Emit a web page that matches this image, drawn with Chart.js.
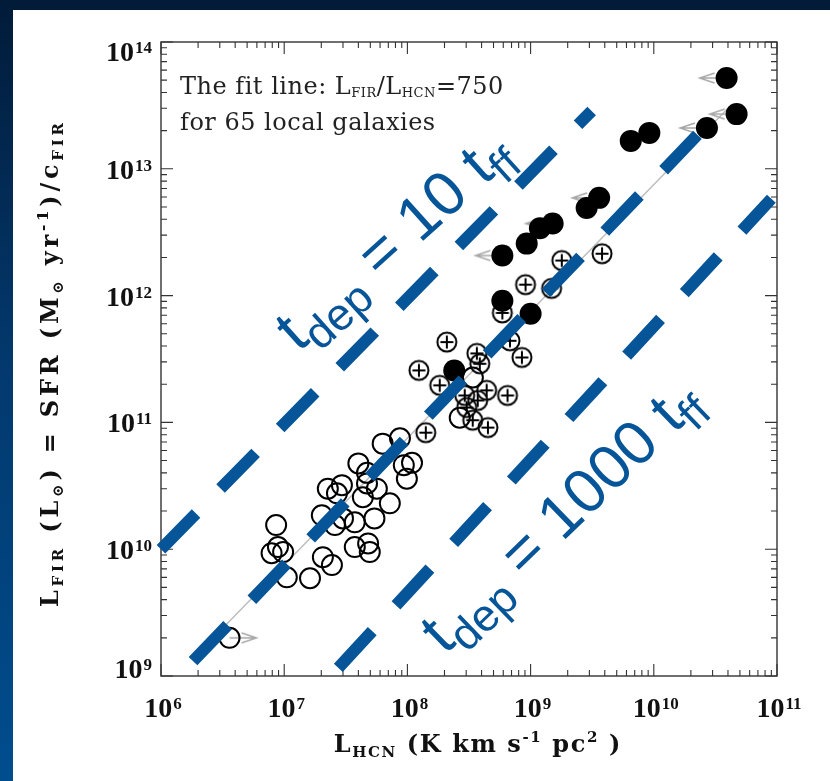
<!DOCTYPE html>
<html lang="en">
<head>
<meta charset="UTF-8">
<title>L_FIR vs L_HCN</title>
<script src="https://cdn.jsdelivr.net/npm/chart.js"></script>
<style>
  html, body { margin: 0; padding: 0; background: #fff; }
  #wrap { position: relative; width: 830px; height: 781px; overflow: hidden; background: #fff; }
  #topbar { position: absolute; left: 0; top: 0; width: 830px; height: 10px; background: #011b39; }
  #leftbar { position: absolute; left: 0; top: 0; width: 13px; height: 781px;
             background: linear-gradient(#011b39, #03386c 45%, #004d8e); }
  canvas { position: absolute; left: 0; top: 0; }
</style>
</head>
<body>
<div id="wrap">
  <div id="topbar"></div>
  <div id="leftbar"></div>
  <canvas id="chart" width="830" height="781"></canvas>
</div>
<script>
// axis decades (tick labels are 10^exp)
const xTickExps = [6, 7, 8, 9, 10, 11];
const yTickExps = [9, 10, 11, 12, 13, 14];
const minorMantissas = [2, 3, 4, 5, 6, 7, 8, 9];

// open circles (normal local galaxies)
const openX = [6.3e7, 8.7e7, 4.0e7, 9.35e7, 1.09e8, 9.9e7, 4.7e7, 4.7e7, 5.65e7, 2.26e7,
               2.94e7, 2.68e7, 4.35e7, 7.2e7, 2.02e7, 3.0e7, 5.4e7, 2.58e7, 3.74e7, 8.6e6,
               3.74e7, 4.8e7, 4.95e7, 7.9e6, 9.8e6, 8.9e6, 1.05e7, 1.62e7, 2.06e7, 2.44e7,
               3.4e8, 2.66e8];
const openY = [6.8e10, 7.5e10, 4.75e10, 4.6e10, 4.8e10, 3.6e10, 4.0e10, 3.3e10, 3.0e10, 3.0e10,
               3.2e10, 2.76e10, 2.57e10, 2.3e10, 1.85e10, 1.75e10, 1.75e10, 1.55e10, 1.63e10, 1.55e10,
               1.04e10, 1.11e10, 9.5e9, 9.3e9, 9.5e9, 1.04e10, 6.0e9, 5.9e9, 8.65e9, 7.5e9,
               2.26e11, 1.09e11];

// circles with a plus (LIRGs)
const plusX = [3.8e9, 1.79e9, 9.1e8, 1.48e9, 5.9e8, 8.5e8, 6.8e8, 2.09e8, 1.24e8, 1.83e8,
               4.4e8, 6.5e8, 4.5e8, 1.41e8, 3.66e8, 3.87e8, 2.92e8, 3.72e8, 3.03e8, 3.39e8];
const plusY = [2.14e12, 1.89e12, 1.22e12, 1.14e12, 7.3e11, 3.25e11, 4.4e11, 4.3e11, 2.57e11, 1.96e11,
               1.79e11, 1.63e11, 9.1e10, 8.3e10, 3.5e11, 2.9e11, 1.63e11, 1.49e11, 1.31e11, 1.04e11];

// filled circles (ULIRGs / high-z), 1 = upper limit in L_HCN
const filledX = [3.9e10, 4.7e10, 2.7e10, 9.2e9, 6.5e9, 3.6e9, 2.85e9, 1.51e9, 1.19e9, 9.3e8,
                 5.9e8, 5.9e8, 1.0e9, 2.4e8];
const filledY = [5.2e13, 2.7e13, 2.1e13, 1.92e13, 1.66e13, 5.9e12, 4.9e12, 3.7e12, 3.4e12, 2.57e12,
                 2.07e12, 9.1e11, 7.2e11, 2.57e11];
const filledUpperLimit = [1, 1, 1, 0, 0, 1, 0, 1, 0, 0, 1, 0, 0, 0];

// open circle with lower limit arrow
const lowerLimitX = [3.6e6];
const lowerLimitY = [2.0e9];

// fit line L_FIR / L_HCN = 750
const fitX = [3e6, 4e10];
const fitY = [2.25e9, 3.0e13];

// depletion time guide lines (dashed blue)
const tdep10X = [1e6, 3.13e9];
const tdep10Y = [1e10, 2.86e13];
const tdep100X = [1.82e6, 2.26e10];
const tdep100Y = [1.31e9, 1.85e13];
const tdep1000X = [2.75e7, 9.0e10];
const tdep1000Y = [1.16e9, 5.8e12];

const BLUE = '#065598';
const pts = (xs, ys) => xs.map((x, i) => ({ x: x, y: ys[i] }));

function makeCanvas(w, h, draw) {
  const c = document.createElement('canvas');
  c.width = w; c.height = h;
  draw(c.getContext('2d'));
  return c;
}
const plusCircle = makeCanvas(26, 26, g => {
  g.strokeStyle = '#000'; g.lineWidth = 2;
  g.beginPath(); g.arc(13, 13, 9.5, 0, 2 * Math.PI); g.stroke();
  g.beginPath(); g.moveTo(13, 6.5); g.lineTo(13, 19.5); g.moveTo(6.5, 13); g.lineTo(19.5, 13); g.stroke();
});
const leftArrow = makeCanvas(60, 16, g => {
  g.strokeStyle = '#a8a8a8'; g.lineWidth = 1.4;
  g.beginPath(); g.moveTo(30, 8); g.lineTo(3, 8);
  g.moveTo(18, 3); g.lineTo(3, 8); g.lineTo(18, 13); g.stroke();
});
const rightArrow = makeCanvas(60, 16, g => {
  g.strokeStyle = '#a8a8a8'; g.lineWidth = 1.4;
  g.beginPath(); g.moveTo(30, 8); g.lineTo(57, 8);
  g.moveTo(42, 3); g.lineTo(57, 8); g.lineTo(42, 13); g.stroke();
});

const limX = filledX.filter((v, i) => filledUpperLimit[i]);
const limY = filledY.filter((v, i) => filledUpperLimit[i]);

// rich text: parts = [[text, ''|'sub'|'sup'], ...], drawn char by char with extra spacing
function drawRich(ctx, parts, x, y, size, family, weight, align, opt) {
  opt = opt || {};
  const small = opt.small || 0.62, subDrop = opt.subDrop || 0.2, sp = opt.spacing || 0;
  const fontFor = k => weight + ' ' + (k ? Math.round(size * small) : size) + 'px ' + family;
  const chars = [];
  parts.forEach(p => {
    ctx.font = fontFor(p[1]);
    Array.from(p[0]).forEach(ch => chars.push({ ch: ch, k: p[1], w: ctx.measureText(ch).width }));
  });
  const total = chars.reduce((s, c) => s + c.w + sp, 0) - sp;
  let cx = align === 'center' ? x - total / 2 : align === 'right' ? x - total : x;
  ctx.textAlign = 'left'; ctx.textBaseline = 'alphabetic';
  chars.forEach(c => {
    ctx.font = fontFor(c.k);
    const dy = c.k === 'sub' ? size * subDrop : c.k === 'sup' ? -size * 0.42 : 0;
    ctx.fillText(c.ch, cx, y + dy);
    cx += c.w + sp;
  });
  return total;
}

function drawPow(ctx, exp, x, y, align) {
  const big = 'bold 28px "Liberation Serif"', sm = 'bold 17px "Liberation Serif"';
  ctx.font = big; const w1 = ctx.measureText('10').width;
  ctx.font = sm; const w2 = ctx.measureText(String(exp)).width;
  const x0 = align === 'right' ? x - w1 - w2 - 1 : x - (w1 + w2 + 1) / 2 + 2;
  ctx.textAlign = 'left'; ctx.textBaseline = 'alphabetic';
  ctx.font = big; ctx.fillText('10', x0, y);
  ctx.font = sm; ctx.fillText(String(exp), x0 + w1 + 1, y - 8);
}

const decor = {
  id: 'decor',
  beforeDatasetsDraw(chart) {
    const { ctx, chartArea: a, scales: { x, y } } = chart;
    ctx.save();
    ctx.strokeStyle = '#333'; ctx.lineWidth = 1.4;
    ctx.strokeRect(a.left, a.top, a.right - a.left, a.bottom - a.top);
    ctx.lineWidth = 1.1;
    ctx.beginPath();
    xTickExps.forEach((e, i) => {
      const ticks = [[Math.pow(10, e), 12]];
      if (i < xTickExps.length - 1) minorMantissas.forEach(m => ticks.push([m * Math.pow(10, e), 6]));
      ticks.forEach(t => {
        const px = x.getPixelForValue(t[0]);
        ctx.moveTo(px, a.bottom); ctx.lineTo(px, a.bottom - t[1]);
        ctx.moveTo(px, a.top); ctx.lineTo(px, a.top + t[1]);
      });
    });
    yTickExps.forEach((e, i) => {
      const ticks = [[Math.pow(10, e), 12]];
      if (i < yTickExps.length - 1) minorMantissas.forEach(m => ticks.push([m * Math.pow(10, e), 6]));
      ticks.forEach(t => {
        const py = y.getPixelForValue(t[0]);
        ctx.moveTo(a.left, py); ctx.lineTo(a.left + t[1], py);
        ctx.moveTo(a.right, py); ctx.lineTo(a.right - t[1], py);
      });
    });
    ctx.stroke();
    ctx.restore();
  },
  afterDatasetsDraw(chart) {
    const { ctx, chartArea: a, scales: { x, y } } = chart;
    ctx.save();
    ctx.fillStyle = '#111';
    // tick labels
    xTickExps.forEach(e => drawPow(ctx, e, x.getPixelForValue(Math.pow(10, e)), a.bottom + 41, 'center'));
    yTickExps.forEach((e, i) => {
      let off = 10;
      if (i === 0) off = 2;
      if (i === yTickExps.length - 1) off = 19;
      drawPow(ctx, e, a.left - 9, y.getPixelForValue(Math.pow(10, e)) + off, 'right');
    });
    // axis titles
    const serifB = '"DejaVu Serif"';
    drawRich(ctx, [['L', ''], ['HCN', 'sub'], [' (K km s', ''], ['-1', 'sup'], [' pc', ''], ['2', 'sup'], [' )', '']],
      477, 752, 24, serifB, 'bold', 'center', { spacing: 1.6 });
    ctx.save();
    ctx.translate(58, 365);
    ctx.rotate(-Math.PI / 2);
    drawRich(ctx, [['L', ''], ['FIR', 'sub'], [' (L', ''], ['\u2299', 'sub'], [') = SFR (M', ''], ['\u2299', 'sub'],
      [' yr', ''], ['-1', 'sup'], [')/c', ''], ['FIR', 'sub']], 0, 0, 24, serifB, 'bold', 'center', { spacing: 3.8 });
    ctx.restore();
    // note text in the upper left
    ctx.fillStyle = '#222';
    drawRich(ctx, [['The fit line: L', ''], ['FIR', 'sub'], ['/L', ''], ['HCN', 'sub'], ['=750', '']],
      180, 94, 24, '"DejaVu Serif"', 'normal', 'left', { small: 0.55, subDrop: 0.12, spacing: 0.5 });
    drawRich(ctx, [['for 65 local galaxies', '']], 180, 130, 24, '"DejaVu Serif"', 'normal', 'left', { spacing: 0.5 });
    // blue depletion time labels, anchored in data space
    ctx.fillStyle = BLUE;
    const labels = [
      { x: 9.9e7, y: 2.07e12, ang: -42, parts: [['t', ''], ['dep', 'sub'], [' = 10 t', ''], ['ff', 'sub']] },
      { x: 2.28e9, y: 1.41e10, ang: -44, parts: [['t', ''], ['dep', 'sub'], [' = 1000 t', ''], ['ff', 'sub']] }
    ];
    labels.forEach(l => {
      ctx.save();
      ctx.translate(x.getPixelForValue(l.x), y.getPixelForValue(l.y));
      ctx.rotate(l.ang * Math.PI / 180);
      drawRich(ctx, l.parts, 0, 0, 62, '"Liberation Sans"', 'normal', 'center', { small: 0.72, subDrop: 0.22 });
      ctx.restore();
    });
    ctx.restore();
  }
};

const dashLine = (xs, ys) => ({
  data: pts(xs, ys), showLine: true, borderColor: BLUE, backgroundColor: BLUE,
  borderWidth: 12, borderDash: [50, 35], borderCapStyle: 'butt', pointRadius: 0,
  clip: false, order: 0
});

new Chart(document.getElementById('chart'), {
  type: 'scatter',
  data: {
    datasets: [
      dashLine(tdep10X, tdep10Y),
      dashLine(tdep100X, tdep100Y),
      dashLine(tdep1000X, tdep1000Y),
      { data: pts(filledX, filledY), pointStyle: 'circle', pointRadius: 11,
        backgroundColor: '#000', borderColor: '#000', borderWidth: 0, order: 2 },
      { data: pts(plusX, plusY), pointStyle: plusCircle, pointRadius: 10, order: 3 },
      { data: pts(openX.concat(lowerLimitX), openY.concat(lowerLimitY)), pointStyle: 'circle', pointRadius: 10,
        backgroundColor: 'rgba(0,0,0,0)', borderColor: '#000', borderWidth: 2, order: 4 },
      { data: pts(limX, limY), pointStyle: leftArrow, pointRadius: 10, order: 5 },
      { data: pts(lowerLimitX, lowerLimitY), pointStyle: rightArrow, pointRadius: 10, order: 5 },
      { data: pts(fitX, fitY), showLine: true, borderColor: '#bdbdbd', borderWidth: 1.5,
        pointRadius: 0, order: 20 }
    ]
  },
  options: {
    responsive: false,
    animation: false,
    devicePixelRatio: 1,
    events: [],
    layout: { padding: { left: 161, top: 42, right: 53, bottom: 105 } },
    plugins: { legend: { display: false }, tooltip: { enabled: false } },
    scales: {
      x: { type: 'logarithmic', min: 1e6, max: 1e11, display: false },
      y: { type: 'logarithmic', min: 1e9, max: 1e14, display: false }
    }
  },
  plugins: [decor]
});
</script>
</body>
</html>
